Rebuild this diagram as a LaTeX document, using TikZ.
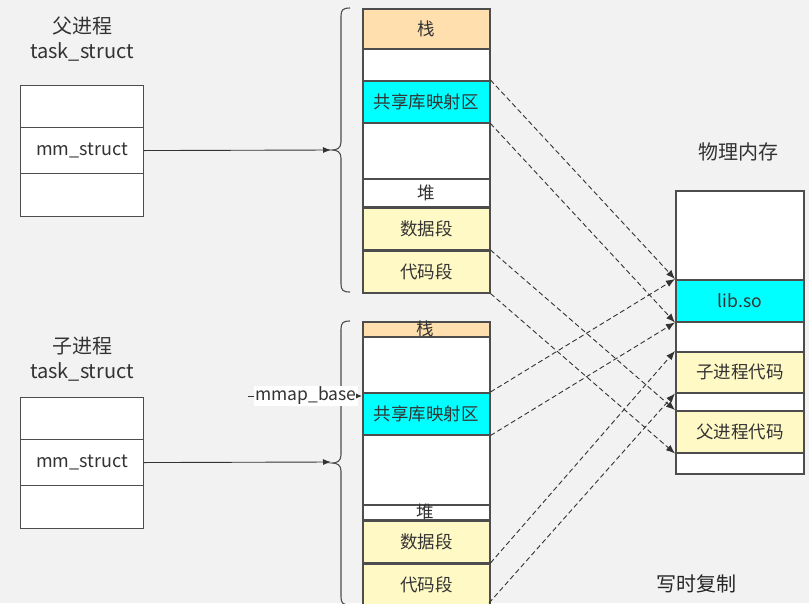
\documentclass[tikz,border=0pt]{standalone}
\usepackage{fontspec}
\setmainfont{Noto Sans CJK SC}
\usetikzlibrary{arrows.meta}
\definecolor{bg}{HTML}{F2F2F2}
\definecolor{edge}{HTML}{4D4D4D}
\definecolor{txt}{HTML}{333333}
\definecolor{peach}{HTML}{FFDFAE}
\definecolor{lyellow}{HTML}{FFF9C6}
\definecolor{cyanc}{HTML}{00FFFF}
\newcommand{\mycell}[8]{\node[cellbox, fill=#7, minimum width={#4-#2}, minimum height={#5-#3}, anchor=north west, #8] (#1) at (#2,#3) {#6};}
\begin{document}
\begin{tikzpicture}[x=1pt,y=-1pt,
  cellbox/.style={draw=edge, line width=1.5pt, inner sep=0pt, text=txt, font=\fontsize{17.5}{19}\selectfont},
  tbox/.style={draw=edge, line width=1.1pt, inner sep=0pt, fill=white, text=txt, font=\fontsize{18}{20}\selectfont},
  lbl/.style={text=txt, font=\fontsize{20}{22}\selectfont, inner sep=0pt},
  conn/.style={draw=txt, line width=0.9pt, -{Latex[length=8pt,width=6pt]}},
  dconn/.style={draw=txt, line width=0.9pt, dash pattern=on 5pt off 3pt, -{Latex[length=9pt,width=7pt]}},
  bracestyle/.style={draw=edge, line width=1.1pt}]
\useasboundingbox (0,0) rectangle (809,603);
\clip (0,0) rectangle (809,603);
\fill[bg] (0,0) rectangle (809,603);

% ---------- parent task_struct ----------
\node[lbl] (ptitle1) at (82,26) {父进程};
\node[lbl] (ptitle2) at (82,52) {task\_struct};
\node[tbox, minimum width=123pt, minimum height=42pt, anchor=north west] (pt1) at (20,85) {};
\node[tbox, minimum width=123pt, minimum height=46pt, anchor=north west] (pmm) at (20,127) {mm\_struct};
\node[tbox, minimum width=123pt, minimum height=43pt, anchor=north west] (pt3) at (20,173) {};

% ---------- child task_struct ----------
\node[lbl] (ctitle1) at (82,346) {子进程};
\node[lbl] (ctitle2) at (82,372) {task\_struct};
\node[tbox, minimum width=123pt, minimum height=42pt, anchor=north west] (ct1) at (20,397) {};
\node[tbox, minimum width=123pt, minimum height=46pt, anchor=north west] (cmm) at (20,439) {mm\_struct};
\node[tbox, minimum width=123pt, minimum height=43pt, anchor=north west] (ct3) at (20,485) {};

% ---------- parent address space ----------
\mycell{pcol}{362}{8}{489}{292}{}{white}{}
\mycell{pstack}{362}{8}{489}{48}{栈}{peach}{}
\mycell{pshare}{362}{80}{489}{122}{共享库映射区}{cyanc}{}
\mycell{pheap}{362}{178}{489}{206}{堆}{white}{}
\mycell{pdata}{362}{207}{489}{249}{数据段}{lyellow}{}
\mycell{pcode}{362}{250}{489}{292}{代码段}{lyellow}{}

% ---------- child address space ----------
\mycell{ccol}{362}{321}{489}{606}{}{white}{}
\mycell{cstack}{362}{321}{489}{336}{}{peach}{}
\node[text=txt, font=\fontsize{17.5}{19}\selectfont, inner sep=0pt] (cstacklbl) at (425,329) {栈};
\mycell{cshare}{362}{392}{489}{434}{共享库映射区}{cyanc}{}
\mycell{cheap}{362}{504}{489}{519}{}{white}{}
\node[text=txt, font=\fontsize{17.5}{19}\selectfont, inner sep=0pt] (cheaplbl) at (425,512) {堆};
\mycell{cdata}{362}{520}{489}{562}{数据段}{lyellow}{}
\mycell{ccode}{362}{563}{489}{606}{代码段}{lyellow}{}

% ---------- braces ----------
\draw[bracestyle] (350,8) .. controls (343,8) and (341,10) .. (341,16) -- (341,142)
  .. controls (341,148) and (337,150) .. (332,150) .. controls (337,150) and (341,152) .. (341,158)
  -- (341,284) .. controls (341,290) and (343,292) .. (350,292);
\draw[bracestyle] (350,321) .. controls (343,321) and (341,323) .. (341,329) -- (341,455)
  .. controls (341,461) and (337,463) .. (332,463) .. controls (337,463) and (341,465) .. (341,471)
  -- (341,597) .. controls (341,603) and (343,605) .. (350,605);

\coordinate (pbtip) at (331,150);
\coordinate (cbtip) at (331,462);
\draw[conn] (pmm.east) -- (pbtip);
\draw[conn] (cmm.east) -- (cbtip);

% ---------- mmap_base ----------
\node[fill=white, inner sep=1pt, text=txt, font=\fontsize{17.5}{19}\selectfont] (mb) at (306,396) {mmap\_base};
\coordinate (mbstart) at (248,396);
\draw[draw=txt, line width=0.9pt] (mbstart) -- (mb.west);
\draw[draw=txt, line width=0.9pt, -{Latex[length=6pt,width=5pt]}] (mb.east) -- (mb.east -| cshare.west);

% ---------- physical memory ----------
\node[lbl] (phys) at (738,152) {物理内存};
\mycell{pm}{675}{190}{803}{473}{}{white}{}
\mycell{lib}{675}{279}{803}{321}{lib.so}{cyanc}{}
\mycell{ccodep}{675}{351}{803}{392}{子进程代码}{lyellow}{}
\mycell{pcodep}{675}{410}{803}{452}{父进程代码}{lyellow}{}

% ---------- dashed mappings ----------
\draw[dconn] (pshare.north east) -- (lib.north west);
\draw[dconn] (pshare.south east) -- (lib.south west);
\draw[dconn] (pcode.north east) -- (pcodep.north west);
\draw[dconn] (pcode.south east) -- (pcodep.south west);
\draw[dconn] (cshare.north east) -- (lib.north west);
\draw[dconn] (cshare.south east) -- (lib.south west);
\draw[dconn] (ccode.north east) -- (ccodep.north west);
\coordinate (ccodebot) at (489,603);
\draw[dconn] (ccodebot) -- (ccodep.south west);

% ---------- caption ----------
\node[text=black!85, font=\fontsize{20}{22}\selectfont, inner sep=0pt] (caption) at (696,584) {写时复制};
\end{tikzpicture}
\end{document}
